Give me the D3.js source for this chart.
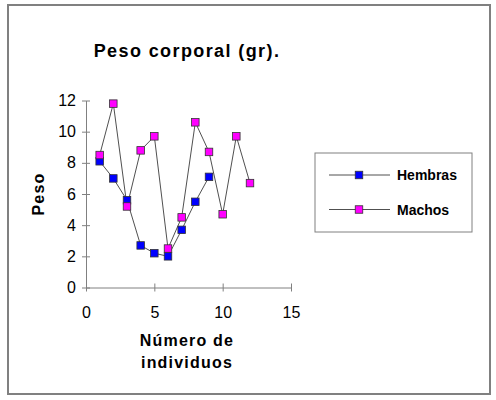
<!DOCTYPE html>
<html lang="es">
<head>
<meta charset="UTF-8">
<title>Peso corporal</title>
<script src="https://cdn.jsdelivr.net/npm/d3@7"></script>
<style>
    * { margin: 0; padding: 0; box-sizing: border-box; }
    body { background: #fff; }
    svg { display: block; font-family: "Liberation Sans", Arial, sans-serif; }
</style>
</head>
<body>
<svg width="496" height="400"></svg>
<script>
    // datos
    var hembrasX = [1, 2, 3, 4, 5, 6, 7, 8, 9];
    var hembras = [8.1, 7.0, 5.6, 2.7, 2.2, 2.0, 3.7, 5.5, 7.1];
    var machosX = [1, 2, 3, 4, 5, 6, 7, 8, 9, 10, 11, 12];
    var machos = [8.5, 11.8, 5.2, 8.8, 9.7, 2.5, 4.5, 10.6, 8.7, 4.7, 9.7, 6.7];
    var xTicks = [0, 5, 10, 15];
    var yTicks = [0, 2, 4, 6, 8, 10, 12];
    var seriesNames = ["Hembras", "Machos"];
    var seriesColors = ["#0000ff", "#ff00ff"];

    var svg = d3.select("svg");

    // marco exterior
    svg.append("rect")
        .attr("x", 8).attr("y", 5)
        .attr("width", 482).attr("height", 389)
        .attr("fill", "none")
        .attr("stroke", "#808080")
        .attr("stroke-width", 2);

    var x = d3.scaleLinear().domain([0, 15]).range([86, 291]);
    var y = d3.scaleLinear().domain([0, 12]).range([287.5, 100.5]);

    // eje x (ticks cruzados)
    var gx = svg.append("g").attr("transform", "translate(0," + y(0) + ")");
    gx.call(d3.axisBottom(x).tickValues(xTicks).tickSize(0).tickPadding(19));
    gx.selectAll(".tick").append("line")
        .attr("y1", -4).attr("y2", 4).attr("stroke", "#808080");
    gx.select(".domain").attr("stroke", "#808080");
    gx.selectAll("text").attr("font-size", 16).attr("fill", "#000")
        .attr("font-family", "Liberation Sans, Arial, sans-serif");

    // eje y
    var gy = svg.append("g").attr("transform", "translate(" + x(0) + ",0)");
    gy.call(d3.axisLeft(y).tickValues(yTicks).tickSize(0).tickPadding(10));
    gy.selectAll(".tick").append("line")
        .attr("x1", -4).attr("x2", 4).attr("stroke", "#808080");
    gy.select(".domain").attr("stroke", "#808080");
    gy.selectAll("text").attr("font-size", 16).attr("fill", "#000")
        .attr("font-family", "Liberation Sans, Arial, sans-serif");

    var line = d3.line()
        .x(function (d) { return x(d[0]); })
        .y(function (d) { return y(d[1]); });

    var series = [d3.zip(hembrasX, hembras), d3.zip(machosX, machos)];
    var ms = 7.5;

    series.forEach(function (pts, i) {
        svg.append("path")
            .datum(pts)
            .attr("d", line)
            .attr("fill", "none")
            .attr("stroke", "#505050")
            .attr("stroke-width", 1);
    });
    series.forEach(function (pts, i) {
        svg.append("g").selectAll("rect")
            .data(pts)
            .enter()
            .append("rect")
            .attr("x", function (d) { return x(d[0]) - ms / 2; })
            .attr("y", function (d) { return y(d[1]) - ms / 2; })
            .attr("width", ms).attr("height", ms)
            .attr("fill", seriesColors[i])
            .attr("stroke", "#333")
            .attr("stroke-width", 0.8);
    });

    // titulo
    svg.append("text")
        .attr("x", 187).attr("y", 57)
        .attr("text-anchor", "middle")
        .attr("font-size", 18).attr("font-weight", "bold")
        .attr("letter-spacing", 1.4)
        .text("Peso corporal (gr).");

    // titulos de ejes
    var xt = svg.append("text")
        .attr("text-anchor", "middle")
        .attr("font-size", 16).attr("font-weight", "bold")
        .attr("letter-spacing", 1.2);
    xt.append("tspan").attr("x", 187).attr("y", 346).text("Número de");
    xt.append("tspan").attr("x", 187).attr("y", 368).text("individuos");

    svg.append("text")
        .attr("transform", "translate(44,194) rotate(-90)")
        .attr("text-anchor", "middle")
        .attr("font-size", 16).attr("font-weight", "bold")
        .attr("letter-spacing", 1.2)
        .text("Peso");

    // leyenda
    var lg = svg.append("g");
    lg.append("rect")
        .attr("x", 315).attr("y", 153)
        .attr("width", 157).attr("height", 79)
        .attr("fill", "#fff")
        .attr("stroke", "#808080").attr("stroke-width", 1);
    var items = lg.selectAll("g.item")
        .data(seriesNames)
        .enter()
        .append("g")
        .attr("class", "item")
        .attr("transform", function (d, i) { return "translate(0," + (175 + i * 34.5) + ")"; });
    items.append("line")
        .attr("x1", 329).attr("x2", 390)
        .attr("stroke", "#505050");
    items.append("rect")
        .attr("x", 359 - ms / 2).attr("y", -ms / 2)
        .attr("width", ms).attr("height", ms)
        .attr("fill", function (d, i) { return seriesColors[i]; })
        .attr("stroke", "#333").attr("stroke-width", 0.8);
    items.append("text")
        .attr("x", 397).attr("y", 5)
        .attr("font-size", 14).attr("font-weight", "bold")
        .text(function (d) { return d; });
</script>
</body>
</html>
